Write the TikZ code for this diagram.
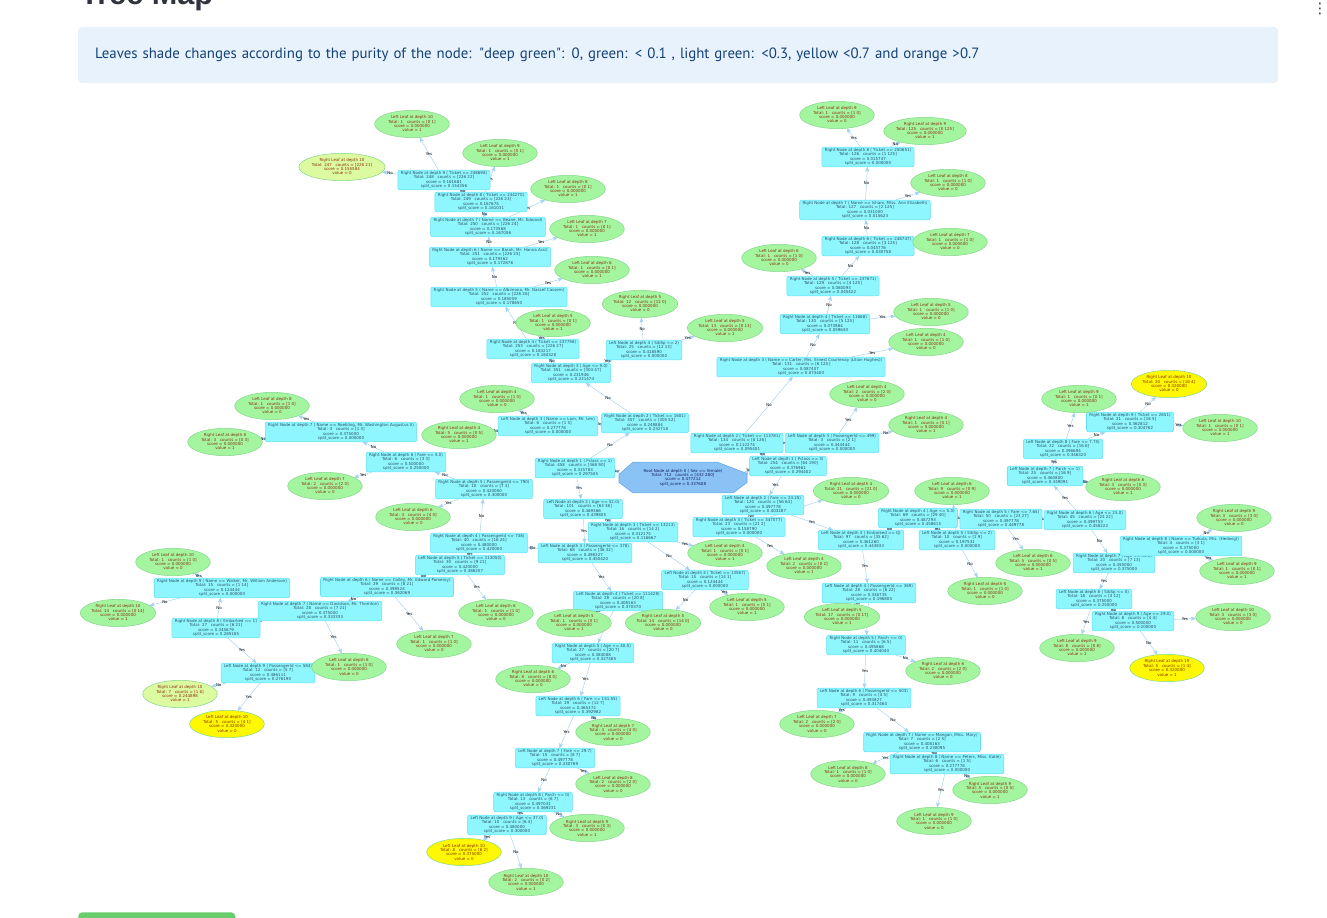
\documentclass[tikz,border=0pt]{standalone}
\usepackage{fontspec}
\setmainfont{DejaVu Sans}
\newfontfamily\headfont{Liberation Sans}
\newfontfamily\infofont{PT Sans}
\usepackage{tikz}
\usetikzlibrary{arrows, shapes.geometric, calc, backgrounds}
\definecolor{boxfill}{RGB}{142,246,255}
\definecolor{boxline}{RGB}{100,222,245}
\definecolor{boxtext}{RGB}{45,80,100}
\definecolor{leafgreen}{RGB}{163,245,160}
\definecolor{leaflight}{RGB}{220,250,160}
\definecolor{leafyellow}{RGB}{255,248,0}
\definecolor{leafline}{RGB}{135,215,140}
\definecolor{leaftext}{RGB}{140,50,10}
\definecolor{rootfill}{RGB}{138,194,245}
\definecolor{rootline}{RGB}{100,165,230}
\definecolor{roottext}{RGB}{20,30,100}
\definecolor{edgeblue}{RGB}{165,210,240}
\definecolor{infofill}{RGB}{232,242,252}
\definecolor{infotext}{RGB}{20,66,120}
\definecolor{headgray}{RGB}{49,51,63}
\definecolor{btngreen}{RGB}{105,205,110}
\tikzset{
	>=stealth', % small arrow heads
	box/.style={rectangle, rounded corners=1.5pt, draw=boxline, fill=boxfill, line width=0.4pt, align=center, font=\fontsize{3}{3.25}\selectfont, text=boxtext, inner xsep=2.2pt, inner ysep=1pt, minimum height=14.5pt}, % split nodes
	leaf/.style={ellipse, draw=leafline, line width=0.4pt, align=center, font=\fontsize{3}{3.25}\selectfont, text=leaftext, inner sep=0.3pt, minimum width=56pt, minimum height=20.5pt}, % leaves
	rootnode/.style={rectangle, align=center, font=\fontsize{3}{3.25}\selectfont, text=roottext, minimum width=99pt, minimum height=24pt, inner sep=0pt,
		path picture={\filldraw[fill=rootfill, draw=rootline, line width=0.4pt]
			($(path picture bounding box.center)+(-48pt,2.25pt)$) -- ($(path picture bounding box.center)+(-37.5pt,11.6pt)$) --
			($(path picture bounding box.center)+(25.5pt,11.6pt)$) -- ($(path picture bounding box.center)+(48pt,3pt)$) --
			($(path picture bounding box.center)+(48pt,-3.75pt)$) -- ($(path picture bounding box.center)+(37.5pt,-11.6pt)$) --
			($(path picture bounding box.center)+(-37.5pt,-11.6pt)$) -- ($(path picture bounding box.center)+(-48pt,-3.75pt)$) -- cycle;}},
	edge/.style={->, draw=edgeblue, line width=0.35pt},
	lbl/.style={font=\fontsize{2.9}{3}\selectfont, text=black, inner sep=0.3pt},
	infobox/.style={rectangle, rounded corners=3pt, fill=infofill, text=infotext, font=\infofont\fontsize{11.15}{13}\selectfont, align=left, text width=874.5pt, inner xsep=12.75pt, minimum height=42pt},
}

\begin{document}
\begin{tikzpicture}[x=0.75pt, y=-0.75pt]
	\useasboundingbox (0,0) rectangle (1327,917);
	\clip (0,0) rectangle (1327,917);

	% page header
	\node[anchor=base west, inner sep=0pt, text=headgray, font=\headfont\bfseries\fontsize{23}{23}\selectfont] (title) at (80,4.5) {Tree Map};
	\node[text=headgray, inner sep=0pt, font=\fontsize{11}{11}\selectfont] (menu) at (1320,9) {⋮};
	\node[infobox] (info) at (678,55) {Leaves shade changes according to the purity of the node: "deep green": 0, green: < 0.1 , light green: <0.3, yellow <0.7 and orange >0.7};
	\node[rectangle, rounded corners=3pt, fill=btngreen, anchor=north west, minimum width=117.75pt, minimum height=12pt] (btn) at (78,912) {};

	% root
	\node[rootnode] (root) at (683,477.5) {Root Node at depth 0 ( Sex == female)\\Total: 712 \ \ counts = [432 280]\\score = 0.477212\\split\_score = 0.337608};

	% split nodes
	\foreach \nm/\pos/\hd/\tot/\cnt/\sco/\spl in {
		L/{788,466}/{Left Node at depth 1 ( Pclass == 3)}/254/64 190/0.376961/0.294402,
		Ly/{763,505}/{Left Node at depth 2 ( Fare <= 23.25)}/120/56 64/0.497778/0.403287,
		Lyy/{861,540}/{Left Node at depth 3 ( Embarked == Q)}/97/35 62/0.461260/0.443833,
		Lyyy/{869,593}/{Left Node at depth 4 ( PassengerId <= 369)}/28/6 22/0.336735/0.196805,
		Lyyyn/{866,645}/{Right Node at depth 5 ( Parch <= 0)}/11/6 5/0.495868/0.404040,
		Lyyyny/{864,698}/{Left Node at depth 6 ( PassengerId <= 503)}/9/4 5/0.493827/0.317460,
		Lyyynyn/{922,742}/{Right Node at depth 7 ( Name == Mangan, Miss. Mary)}/7/2 5/0.408163/0.238095,
		Lyyynynn/{947,764}/{Right Node at depth 8 ( Name == Peters, Miss. Katie)}/6/1 5/0.277778/0.000000,
		Lyyn/{918,518}/{Right Node at depth 4 ( Age <= 5.0)}/69/29 40/0.487293/0.458615,
		Lyyny/{957,540}/{Left Node at depth 5 ( SibSp <= 2)}/10/1 9/0.197531/0.000000,
		Lyynn/{1001,519}/{Right Node at depth 5 ( Fare <= 7.65)}/50/23 27/0.497778/0.449778,
		Lyynnn/{1085,520}/{Right Node at depth 6 ( Age <= 25.0)}/45/23 22/0.499753/0.458222,
		Lyynnny/{1045,476}/{Left Node at depth 7 ( Parch <= 1)}/25/16 9/0.460800/0.349091,
		Lyynnnyy/{1063,449}/{Left Node at depth 8 ( Fare <= 7.75)}/22/16 6/0.396694/0.346320,
		Lyynnnyyn/{1130,422}/{Right Node at depth 9 ( Ticket == 2651)}/21/16 5/0.362812/0.304762,
		Lyynnnn/{1114,563}/{Right Node at depth 7 ( Age <= 36.0)}/20/7 13/0.455000/0.375000,
		Lyynnnny/{1094,599}/{Left Node at depth 8 ( SibSp <= 0)}/16/4 12/0.375000/0.250000,
		Lyynnnnyn/{1133,621}/{Right Node at depth 9 ( Age <= 29.0)}/8/4 4/0.500000/0.200000,
		Lyynnnnn/{1181,546}/{Right Node at depth 8 ( Name == Turkula, Mrs. (Hedwig))}/4/3 1/0.375000/0.000000,
		Lyn/{739,527}/{Right Node at depth 3 ( Ticket == 347077)}/23/21 2/0.158790/0.000000,
		Ln/{737,443}/{Right Node at depth 2 ( Ticket == 113781)}/134/8 126/0.112274/0.095401,
		Lny/{832,443}/{Left Node at depth 3 ( PassengerId <= 499)}/3/2 1/0.444444/0.000000,
		Lnn/{801,367}/{Right Node at depth 3 ( Name == Carter, Mrs. Ernest Courtenay (Lilian Hughes))}/131/6 125/0.087407/0.073400,
		Lnnn/{825,324}/{Right Node at depth 4 ( Ticket == 11668)}/130/5 125/0.073964/0.059630,
		Lnnnn/{833,286}/{Right Node at depth 5 ( Ticket == 237671)}/129/4 125/0.060093/0.045422,
		Lnnnnn/{868,246}/{Right Node at depth 6 ( Ticket == 248747)}/128/3 125/0.045776/0.030758,
		Lnnnnnn/{865,210}/{Right Node at depth 7 ( Name == Isham, Miss. Ann Elizabeth)}/127/2 125/0.031000/0.015623,
		Lnnnnnnn/{868,157}/{Right Node at depth 8 ( Ticket == 250651)}/126/1 125/0.015747/0.000000,
		R/{575,468}/{Right Node at depth 1 ( Pclass == 1)}/458/368 90/0.315783/0.297505,
		Ry/{583,509}/{Left Node at depth 2 ( Age <= 52.0)}/101/63 38/0.469366/0.439805,
		Ryy/{585,553}/{Left Node at depth 3 ( PassengerId <= 378)}/68/36 32/0.498327/0.450420,
		Ryyy/{618,601}/{Left Node at depth 4 ( Ticket == 111428)}/28/20 8/0.408163/0.370370,
		Ryyyn/{593,653}/{Right Node at depth 5 ( Age <= 40.0)}/27/20 7/0.384088/0.327485,
		Ryyyny/{578,706}/{Left Node at depth 6 ( Fare <= 151.55)}/19/12 7/0.465374/0.392982,
		Ryyynyy/{555,758}/{Left Node at depth 7 ( Fare <= 29.7)}/15/8 7/0.497778/0.430769,
		Ryyynyyn/{533,802}/{Right Node at depth 8 ( Parch <= 0)}/13/6 7/0.497041/0.369231,
		Ryyynyyny/{507,825}/{Left Node at depth 9 ( Age <= 37.0)}/10/6 4/0.480000/0.300000,
		Ryyn/{479,543}/{Right Node at depth 4 ( PassengerId <= 738)}/40/16 24/0.480000/0.420000,
		Ryyny/{460,565}/{Left Node at depth 5 ( Ticket == 113050)}/30/9 21/0.420000/0.386207,
		Ryynyn/{387,587}/{Right Node at depth 6 ( Name == Colley, Mr. Edward Pomeroy)}/29/8 21/0.399524/0.362069,
		Ryynynn/{320,611}/{Right Node at depth 7 ( Name == Davidson, Mr. Thornton)}/28/7 21/0.375000/0.333333,
		Ryynynnn/{216,628}/{Right Node at depth 8 ( Embarked == C)}/27/6 21/0.345679/0.285185,
		Ryynynnny/{268,673}/{Left Node at depth 9 ( PassengerId <= 584)}/12/5 7/0.486111/0.276190,
		Ryynynnnn/{222,588}/{Right Node at depth 9 ( Name == Walker, Mr. William Anderson)}/15/1 14/0.124444/0.000000,
		Ryynn/{484,489}/{Right Node at depth 5 ( PassengerId <= 790)}/10/7 3/0.420000/0.300000,
		Ryynnn/{406,462}/{Right Node at depth 6 ( Fare <= 5.0)}/6/3 3/0.500000/0.250000,
		Ryynnnn/{341,432}/{Right Node at depth 7 ( Name == Roebling, Mr. Washington Augustus II)}/4/1 3/0.375000/0.000000,
		Ryn/{633,532}/{Right Node at depth 3 ( Ticket == 13213)}/16/14 2/0.312175/0.116667,
		Rynn/{705,580}/{Left Node at depth 4 ( Ticket == 13567)}/15/14 1/0.124444/0.000000,
		Rn/{645,423}/{Right Node at depth 2 ( Ticket == 1601)}/357/305 52/0.248884/0.232718,
		Rny/{548,426}/{Left Node at depth 3 ( Name == Lam, Mr. Len)}/6/1 5/0.277778/0.000000,
		Rnn/{571,373}/{Right Node at depth 3 ( Age <= 9.0)}/351/304 47/0.231946/0.221474,
		Rnny/{644,350}/{Left Node at depth 4 ( SibSp <= 2)}/25/12 13/0.418590/0.000000,
		Rnnn/{533,349}/{Right Node at depth 4 ( Ticket == 237798)}/253/226 27/0.183217/0.184328,
		Rnnnn/{499,297}/{Right Node at depth 5 ( Name == Albimona, Mr. Nassef Cassem)}/252/226 26/0.185059/0.178650,
		Rnnnnn/{490,257}/{Right Node at depth 6 ( Name == Barah, Mr. Hanna Assi)}/251/226 25/0.179362/0.172876,
		Rnnnnnn/{488,227}/{Right Node at depth 7 ( Name == Beane, Mr. Edward)}/250/226 24/0.173568/0.167006,
		Rnnnnnnn/{481,202}/{Right Node at depth 8 ( Ticket == 244270)}/249/226 23/0.167675/0.161031,
		Rnnnnnnnn/{444,180}/{Right Node at depth 9 ( Ticket == 248698)}/248/226 22/0.161681/0.154356}
	{
		\node[box] (\nm) at (\pos) {\hd\\Total: \tot\ \ \ counts = [\cnt]\\score = \sco\\split\_score = \spl};
	}

	% leaves
	\foreach \nm/\pos/\sd/\dep/\tot/\cnt/\sco/\val/\fc in {
		Lyyyy/{842,617}/Left/5/17/0 17/0.000000/1/leafgreen,
		Lyyynyy/{817,724}/Left/7/2/2 0/0.000000/0/leafgreen,
		Lyyynyny/{848,774}/Left/8/1/1 0/0.000000/0/leafgreen,
		Lyyynynny/{934,821}/Left/9/1/1 0/0.000000/0/leafgreen,
		Lyyynynnn/{990,790}/Right/9/5/0 5/0.000000/1/leafgreen,
		Lyyynn/{943,671}/Right/6/2/2 0/0.000000/0/leafgreen,
		Lyynyy/{952,491}/Left/6/9/0 9/0.000000/1/leafgreen,
		Lyynyn/{985,591}/Right/6/1/1 0/0.000000/0/leafgreen,
		Lyynny/{1033,563}/Left/6/5/0 5/0.000000/1/leafgreen,
		Lyynnnyyy/{1079,399}/Left/9/1/0 1/0.000000/1/leafgreen,
		Lyynnnyyny/{1220,428}/Left/10/1/0 1/0.000000/1/leafgreen,
		Lyynnnyynn/{1169,384}/Right/10/20/16 4/0.320000/0/leafyellow,
		Lyynnnyn/{1123,487}/Right/8/3/0 3/0.000000/1/leafgreen,
		Lyynnnnyy/{1077,648}/Left/9/8/0 8/0.000000/1/leafgreen,
		Lyynnnnyny/{1233,617}/Left/10/3/3 0/0.000000/0/leafgreen,
		Lyynnnnynn/{1167,668}/Right/10/5/1 4/0.320000/1/leafyellow,
		Lyynnnnny/{1237,571}/Left/9/1/0 1/0.000000/1/leafgreen,
		Lyynnnnnn/{1234,518}/Right/9/3/3 0/0.000000/0/leafgreen,
		Lyny/{804,566}/Left/4/2/0 2/0.000000/1/leafgreen,
		Lynn/{851,491}/Right/4/21/21 0/0.000000/0/leafgreen,
		Lnyy/{867,394}/Left/4/2/2 0/0.000000/0/leafgreen,
		Lnyn/{926,425}/Right/4/1/0 1/0.000000/1/leafgreen,
		Lnny/{926,342}/Left/4/1/1 0/0.000000/0/leafgreen,
		Lnnny/{931,312}/Left/5/1/1 0/0.000000/0/leafgreen,
		Lnnnny/{779,258}/Left/6/1/1 0/0.000000/0/leafgreen,
		Lnnnnny/{950,242}/Left/7/1/1 0/0.000000/0/leafgreen,
		Lnnnnnny/{948,183}/Left/8/1/1 0/0.000000/0/leafgreen,
		Lnnnnnnny/{837,115}/Left/9/1/1 0/0.000000/0/leafgreen,
		Lnnnnnnnn/{925,131}/Right/9/125/0 125/0.000000/1/leafgreen,
		Ryyyy/{574,623}/Left/5/1/0 1/0.000000/1/leafgreen,
		Ryyynyyy/{613,784}/Left/8/2/2 0/0.000000/0/leafgreen,
		Ryyynyynyy/{464,852}/Left/10/8/6 2/0.375000/0/leafyellow,
		Ryyynyynyn/{526,882}/Right/10/2/0 2/0.000000/1/leafgreen,
		Ryyynyynn/{587,828}/Right/9/3/0 3/0.000000/1/leafgreen,
		Ryyynyn/{613,732}/Right/7/4/4 0/0.000000/0/leafgreen,
		Ryyynn/{533,679}/Right/6/8/8 0/0.000000/0/leafgreen,
		Ryynyy/{496,613}/Left/6/1/1 0/0.000000/0/leafgreen,
		Ryynyny/{434,644}/Left/7/1/1 0/0.000000/0/leafgreen,
		Ryynynny/{349,667}/Left/8/1/1 0/0.000000/0/leafgreen,
		Ryynynnnyy/{227,724}/Left/10/5/4 1/0.320000/0/leafyellow,
		Ryynynnnyn/{180,694}/Right/10/7/1 6/0.244898/1/leaflight,
		Ryynynnnny/{173,562}/Left/10/1/1 0/0.000000/0/leafgreen,
		Ryynynnnnn/{118,613}/Right/10/14/0 14/0.000000/1/leafgreen,
		Ryynny/{413,517}/Left/6/4/4 0/0.000000/0/leafgreen,
		Ryynnny/{325,486}/Left/7/2/2 0/0.000000/0/leafgreen,
		Ryynnnny/{272,406}/Left/8/1/1 0/0.000000/0/leafgreen,
		Ryynnnnn/{225,442}/Right/8/3/0 3/0.000000/1/leafgreen,
		Ryny/{725,553}/Left/4/1/0 1/0.000000/1/leafgreen,
		Rynny/{747,607}/Left/5/1/0 1/0.000000/1/leafgreen,
		Rynnn/{663,623}/Right/5/14/14 0/0.000000/0/leafgreen,
		Rnyy/{497,399}/Left/4/1/1 0/0.000000/0/leafgreen,
		Rnyn/{459,435}/Right/4/5/0 5/0.000000/1/leafgreen,
		Rnnyy/{725,328}/Left/5/13/0 13/0.000000/1/leafgreen,
		Rnnyn/{640,304}/Right/5/12/12 0/0.000000/0/leafgreen,
		Rnnny/{553,323}/Left/5/1/0 1/0.000000/1/leafgreen,
		Rnnnny/{592,270}/Left/6/1/0 1/0.000000/1/leafgreen,
		Rnnnnny/{587,229}/Left/7/1/0 1/0.000000/1/leafgreen,
		Rnnnnnny/{568,189}/Left/8/1/0 1/0.000000/1/leafgreen,
		Rnnnnnnny/{500,153}/Left/9/1/0 1/0.000000/1/leafgreen,
		Rnnnnnnnny/{412,124}/Left/10/1/0 1/0.000000/1/leafgreen,
		Rnnnnnnnnn/{342,167}/Right/10/247/226 21/0.155584/0/leaflight}
	{
		\node[leaf, fill=\fc] (\nm) at (\pos) {\sd\ Leaf at depth \dep\\Total: \tot\ \ \ counts = [\cnt]\\score = \sco\\value = \val};
	}

	% connectors
	\begin{scope}[on background layer]
		\foreach \a/\b in {root/L, L/Ly, Ly/Lyy, Lyy/Lyyy, Lyyy/Lyyyy, Lyyyn/Lyyyny, Lyyyny/Lyyynyy, Lyyynyn/Lyyynyny, Lyyynynn/Lyyynynny,
			Lyyn/Lyyny, Lyyny/Lyynyy, Lyynn/Lyynny, Lyynnn/Lyynnny, Lyynnny/Lyynnnyy, Lyynnnyy/Lyynnnyyy, Lyynnnyyn/Lyynnnyyny,
			Lyynnnn/Lyynnnny, Lyynnnny/Lyynnnnyy, Lyynnnnyn/Lyynnnnyny, Lyynnnnn/Lyynnnnny, Lyn/Lyny, Ln/Lny, Lny/Lnyy, Lnn/Lnny,
			Lnnn/Lnnny, Lnnnn/Lnnnny, Lnnnnn/Lnnnnny, Lnnnnnn/Lnnnnnny, Lnnnnnnn/Lnnnnnnny,
			R/Ry, Ry/Ryy, Ryy/Ryyy, Ryyy/Ryyyy, Ryyyn/Ryyyny, Ryyyny/Ryyynyy, Ryyynyy/Ryyynyyy, Ryyynyyn/Ryyynyyny, Ryyynyyny/Ryyynyynyy,
			Ryyn/Ryyny, Ryyny/Ryynyy, Ryynyn/Ryynyny, Ryynynn/Ryynynny, Ryynynnn/Ryynynnny, Ryynynnny/Ryynynnnyy, Ryynynnnn/Ryynynnnny,
			Ryynn/Ryynny, Ryynnn/Ryynnny, Ryynnnn/Ryynnnny, Ryn/Ryny, Rynn/Rynny, Rn/Rny, Rny/Rnyy, Rnn/Rnny, Rnny/Rnnyy, Rnnn/Rnnny,
			Rnnnn/Rnnnny, Rnnnnn/Rnnnnny, Rnnnnnn/Rnnnnnny, Rnnnnnnn/Rnnnnnnny, Rnnnnnnnn/Rnnnnnnnny}
		{
			\draw[edge] (\a) -- node[lbl]{Yes} (\b);
		}
		\foreach \a/\b in {root/R, L/Ln, Ly/Lyn, Lyy/Lyyn, Lyyy/Lyyyn, Lyyyn/Lyyynn, Lyyyny/Lyyynyn, Lyyynyn/Lyyynynn, Lyyynynn/Lyyynynnn,
			Lyyn/Lyynn, Lyyny/Lyynyn, Lyynn/Lyynnn, Lyynnn/Lyynnnn, Lyynnny/Lyynnnyn, Lyynnnyy/Lyynnnyyn, Lyynnnyyn/Lyynnnyynn,
			Lyynnnn/Lyynnnnn, Lyynnnny/Lyynnnnyn, Lyynnnnyn/Lyynnnnynn, Lyynnnnn/Lyynnnnnn, Lyn/Lynn, Ln/Lnn, Lny/Lnyn, Lnn/Lnnn,
			Lnnn/Lnnnn, Lnnnn/Lnnnnn, Lnnnnn/Lnnnnnn, Lnnnnnn/Lnnnnnnn, Lnnnnnnn/Lnnnnnnnn,
			R/Rn, Ry/Ryn, Ryy/Ryyn, Ryyy/Ryyyn, Ryyyn/Ryyynn, Ryyyny/Ryyynyn, Ryyynyy/Ryyynyyn, Ryyynyyn/Ryyynyynn, Ryyynyyny/Ryyynyynyn,
			Ryyn/Ryynn, Ryyny/Ryynyn, Ryynyn/Ryynynn, Ryynynn/Ryynynnn, Ryynynnn/Ryynynnnn, Ryynynnny/Ryynynnnyn, Ryynynnnn/Ryynynnnnn,
			Ryynn/Ryynnn, Ryynnn/Ryynnnn, Ryynnnn/Ryynnnnn, Ryn/Rynn, Rynn/Rynnn, Rn/Rnn, Rny/Rnyn, Rnn/Rnnn, Rnny/Rnnyn, Rnnn/Rnnnn,
			Rnnnn/Rnnnnn, Rnnnnn/Rnnnnnn, Rnnnnnn/Rnnnnnnn, Rnnnnnnn/Rnnnnnnnn, Rnnnnnnnn/Rnnnnnnnnn}
		{
			\draw[edge] (\a) -- node[lbl]{No} (\b);
		}
	\end{scope}
\end{tikzpicture}
\end{document}
